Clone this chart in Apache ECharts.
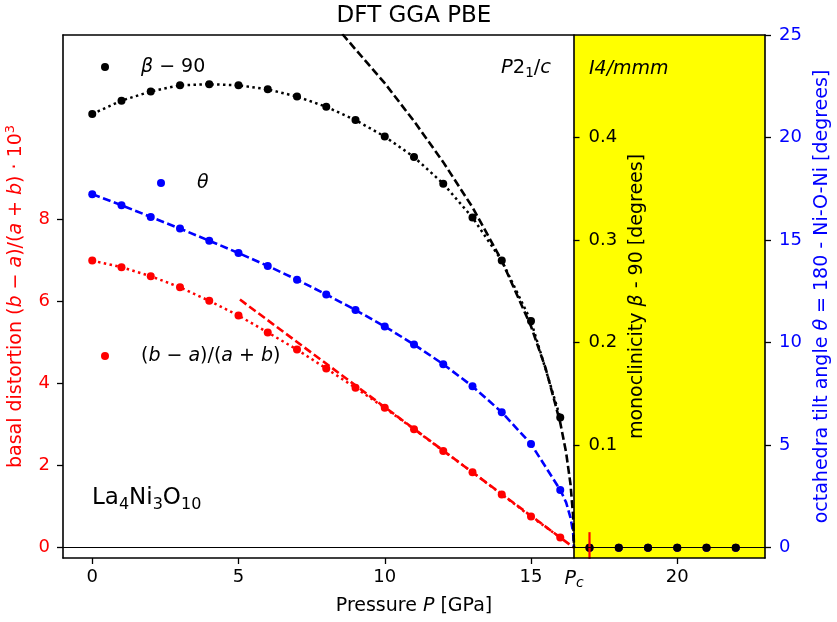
<!DOCTYPE html>
<html lang="en">
<head>
<meta charset="UTF-8">
<title>La4Ni3O10 - DFT GGA PBE</title>
<script src="https://cdn.jsdelivr.net/npm/echarts@6/dist/echarts.min.js"></script>
<style>
  html, body { margin: 0; padding: 0; background: #fff; }
  #main { width: 837px; height: 622px; }
</style>
</head>
<body>
<div id="main"></div>
<script type="text/javascript">
// pressure grid of the DFT points (GPa)
var pressure = [0, 1, 2, 3, 4, 5, 6, 7, 8, 9, 10, 11, 12, 13, 14, 15, 16, 17, 18, 19, 20, 21, 22];
// monoclinicity beta - 90 (degrees), middle axis
var betaVals = [0.423, 0.436, 0.445, 0.451, 0.452, 0.451, 0.447, 0.440, 0.430, 0.417, 0.401, 0.381, 0.355, 0.322, 0.280, 0.221, 0.127, 0, 0, 0, 0, 0, 0];
// tilt angle theta (degrees), right axis
var thetaVals = [17.24, 16.70, 16.13, 15.56, 14.97, 14.37, 13.74, 13.07, 12.35, 11.59, 10.79, 9.91, 8.95, 7.87, 6.61, 5.06, 2.82, 0, 0, 0, 0, 0, 0];
// basal distortion (b-a)/(a+b) * 10^3, left axis
var distVals = [7.00, 6.84, 6.62, 6.35, 6.02, 5.66, 5.25, 4.83, 4.37, 3.90, 3.41, 2.89, 2.36, 1.84, 1.30, 0.76, 0.25, 0, 0, 0, 0, 0, 0];

// critical pressure
var pc = 16.47;

// dashed fit curves
var betaFitP = [8.55, 9, 10, 11, 12, 13, 14, 15, 15.5, 16, 16.2, 16.35, 16.44, 16.47];
var betaFitV = [0.501, 0.486, 0.453, 0.416, 0.376, 0.332, 0.280, 0.216, 0.175, 0.122, 0.093, 0.062, 0.031, 0];
var thetaFitP = [0, 1, 2, 3, 4, 5, 6, 7, 8, 9, 10, 11, 12, 13, 14, 15, 16, 16.2, 16.35, 16.44, 16.47];
var thetaFitV = [17.24, 16.70, 16.13, 15.56, 14.97, 14.37, 13.74, 13.07, 12.35, 11.59, 10.79, 9.91, 8.95, 7.87, 6.61, 5.06, 2.82, 2.21, 1.47, 0.74, 0];
var distFitP = [5.05, 16.47];
var distFitV = [6.05, 0];

// error bar of the first point above pc
var distErrP = 17;
var distErr = 0.38;

// tick labels
var xTicks = [0, 5, 10, 15, 20];
var leftTicks = [0, 2, 4, 6, 8];
var monoTicks = [0.1, 0.2, 0.3, 0.4];
var thetaTicks = [0, 5, 10, 15, 20, 25];

var FONT = 'DejaVu Sans';
var RED = '#ff0000', BLUE = '#0000ff', BLACK = '#000000';

function pairs(xs, ys, from, to) {
  var out = [];
  for (var i = from; i < to; i++) out.push([xs[i], ys[i]]);
  return out;
}

var ptsN = pressure.length;
var inPhase = 17; // points 0..16 are in the P2_1/c phase

var myChart = echarts.init(document.getElementById('main'));

var tickStyle = { show: true, inside: false, length: 6, lineStyle: { color: BLACK, width: 1.3 } };
var lineStyleAxis = { show: true, onZero: false, lineStyle: { color: BLACK, width: 1.6 } };

var legendRich = {
  g: { width: 27 },
  i: { fontStyle: 'italic', fontSize: 19, fontFamily: FONT, color: BLACK },
  n: { fontSize: 19, fontFamily: FONT, color: BLACK }
};
var legendNames = {
  beta: '{g|}{i|β}{n| − 90}',
  theta: '{g|}{i|θ}',
  dist: '{g|}{n|(}{i|b}{n| − }{i|a}{n|)/(}{i|a}{n| + }{i|b}{n|)}'
};
function makeLegend(name, left, cy) {
  return {
    data: [name],
    left: left,
    top: cy - 11,
    padding: 0,
    icon: 'circle',
    itemWidth: 8,
    itemHeight: 8,
    selectedMode: false,
    formatter: function (n) { return legendNames[n]; },
    textStyle: { lineHeight: 22, rich: legendRich }
  };
}

var option = {
  backgroundColor: '#fff',
  animation: false,
  textStyle: { fontFamily: FONT },
  grid: { left: 63, right: 72, top: 35, bottom: 64, containLabel: false, outerBoundsMode: 'none' },
  legend: [
    makeLegend('beta', 101, 67),
    makeLegend('theta', 157, 183),
    makeLegend('dist', 101, 356)
  ],
  xAxis: [{
    type: 'value',
    min: -1,
    max: 23,
    z: 5,
    axisLine: lineStyleAxis,
    axisTick: Object.assign({ customValues: xTicks }, tickStyle),
    splitLine: { show: false },
    axisLabel: {
      customValues: xTicks.concat([pc]),
      margin: 10,
      fontSize: 18,
      color: BLACK,
      fontFamily: FONT,
      formatter: function (v) {
        if (Math.abs(v - pc) < 0.01) return '{i|P}{s|c}';
        return String(v);
      },
      rich: {
        i: { fontStyle: 'italic', fontSize: 19, lineHeight: 22, fontFamily: FONT, color: BLACK },
        s: { fontStyle: 'italic', fontSize: 14, lineHeight: 11, verticalAlign: 'bottom', fontFamily: FONT, color: BLACK }
      }
    },
    name: '{n|Pressure }{i|P}{n| [GPa]}',
    nameLocation: 'middle',
    nameGap: 39,
    nameTextStyle: {
      rich: {
        n: { fontSize: 19, fontFamily: FONT, color: BLACK },
        i: { fontSize: 19, fontStyle: 'italic', fontFamily: FONT, color: BLACK }
      }
    }
  }, {
    // top frame line
    type: 'value',
    position: 'top',
    min: -1,
    max: 23,
    z: 5,
    axisLine: lineStyleAxis,
    axisTick: { show: false },
    axisLabel: { show: false },
    splitLine: { show: false }
  }],
  yAxis: [{
    // basal distortion, left
    type: 'value',
    position: 'left',
    min: -0.25,
    max: 12.5,
    z: 5,
    axisLine: lineStyleAxis,
    axisTick: Object.assign({ customValues: leftTicks }, tickStyle),
    splitLine: { show: false },
    axisLabel: { customValues: leftTicks, margin: 13, fontSize: 18, color: RED, fontFamily: FONT },
    name: '{n|basal distortion (}{i|b}{n| − }{i|a}{n|)/(}{i|a}{n| + }{i|b}{n|) · 10}{sup|3}',
    nameLocation: 'middle',
    nameRotate: 90,
    nameGap: 35,
    nameTextStyle: {
      rich: {
        n: { fontSize: 19, lineHeight: 24, fontFamily: FONT, color: RED },
        i: { fontSize: 19, lineHeight: 24, fontStyle: 'italic', fontFamily: FONT, color: RED },
        sup: { fontSize: 13, lineHeight: 12, verticalAlign: 'top', fontFamily: FONT, color: RED }
      }
    }
  }, {
    // monoclinicity, axis drawn at pc
    type: 'value',
    position: 'right',
    offset: -(765 - 573.5),
    min: -0.01,
    max: 0.5,
    z: 6,
    axisLine: lineStyleAxis,
    axisTick: Object.assign({ customValues: monoTicks }, tickStyle),
    splitLine: { show: false },
    axisLabel: {
      customValues: monoTicks, margin: 15, fontSize: 18, color: BLACK, fontFamily: FONT,
      formatter: function (v) { return v.toFixed(1); }
    },
    name: '{n|monoclinicity }{i|β}{n| - 90 [degrees]}',
    nameLocation: 'middle',
    nameRotate: 90,
    nameGap: 54,
    nameTextStyle: {
      rich: {
        n: { fontSize: 19, fontFamily: FONT, color: BLACK },
        i: { fontSize: 19, fontStyle: 'italic', fontFamily: FONT, color: BLACK }
      }
    }
  }, {
    // tilt angle, right
    type: 'value',
    position: 'right',
    min: -0.5,
    max: 25,
    z: 5,
    axisLine: lineStyleAxis,
    axisTick: Object.assign({ customValues: thetaTicks }, tickStyle),
    splitLine: { show: false },
    axisLabel: { customValues: thetaTicks, margin: 14, fontSize: 18, color: BLUE, fontFamily: FONT },
    name: '{n|octahedra tilt angle }{i|θ}{n| = 180 - Ni-O-Ni [degrees]}',
    nameLocation: 'middle',
    nameRotate: 90,
    nameGap: 46,
    nameTextStyle: {
      rich: {
        n: { fontSize: 19, fontFamily: FONT, color: BLUE },
        i: { fontSize: 19, fontStyle: 'italic', fontFamily: FONT, color: BLUE }
      }
    }
  }],
  graphic: [{
    type: 'text',
    z: 10,
    x: 414,
    y: 16,
    style: { text: 'DFT GGA PBE', fontSize: 23, fontFamily: FONT, fill: BLACK, align: 'center', verticalAlign: 'middle' }
  }, {
    type: 'text',
    z: 10,
    x: 92,
    y: 498,
    style: {
      text: '{n|La}{s|4}{n|Ni}{s|3}{n|O}{s|10}',
      verticalAlign: 'middle',
      rich: {
        n: { fontSize: 23, lineHeight: 30, fontFamily: FONT, fill: BLACK },
        s: { fontSize: 16, lineHeight: 14, verticalAlign: 'bottom', fontFamily: FONT, fill: BLACK }
      }
    }
  }, {
    type: 'text',
    z: 10,
    x: 501,
    y: 68,
    style: {
      text: '{i|P}{n|2}{s|1}{n|/}{i|c}',
      verticalAlign: 'middle',
      rich: {
        n: { fontSize: 19.5, lineHeight: 24, fontFamily: FONT, fill: BLACK },
        i: { fontSize: 19.5, lineHeight: 24, fontStyle: 'italic', fontFamily: FONT, fill: BLACK },
        s: { fontSize: 13.5, lineHeight: 11, verticalAlign: 'bottom', fontFamily: FONT, fill: BLACK }
      }
    }
  }, {
    type: 'text',
    z: 10,
    x: 589,
    y: 69,
    style: {
      text: 'I4/mmm',
      verticalAlign: 'middle',
      fontSize: 19,
      fontStyle: 'italic',
      fontFamily: FONT,
      fill: BLACK
    }
  }],
  series: [{
    // tetragonal phase region
    type: 'line',
    name: 'phase',
    data: [],
    z: 1,
    silent: true,
    markArea: {
      silent: true,
      itemStyle: { color: '#ffff00' },
      data: [[{ xAxis: pc }, { xAxis: 23 }]]
    }
  }, {
    type: 'line',
    name: 'zero',
    data: [],
    silent: true,
    markLine: {
      silent: true,
      symbol: ['none', 'none'],
      label: { show: false },
      lineStyle: { color: BLACK, width: 1, type: 'solid' },
      data: [{ yAxis: 0 }]
    }
  }, {
    type: 'line',
    name: 'distDots',
    yAxisIndex: 0,
    data: pairs(pressure, distVals, 0, inPhase),
    showSymbol: false,
    lineStyle: { color: RED, width: 2.5, type: [2.5, 3.4] }
  }, {
    type: 'line',
    name: 'distFit',
    yAxisIndex: 0,
    data: pairs(distFitP, distFitV, 0, distFitP.length),
    showSymbol: false,
    lineStyle: { color: RED, width: 2.6, type: [8, 3.5] }
  }, {
    type: 'line',
    name: 'distErr',
    yAxisIndex: 0,
    data: [[distErrP, -distErr], [distErrP, distErr]],
    showSymbol: false,
    lineStyle: { color: RED, width: 2.2 }
  }, {
    type: 'scatter',
    name: 'dist',
    yAxisIndex: 0,
    data: pairs(pressure, distVals, 0, ptsN),
    symbolSize: 8,
    itemStyle: { color: RED, opacity: 1 }
  }, {
    type: 'line',
    name: 'thetaFit',
    yAxisIndex: 2,
    data: pairs(thetaFitP, thetaFitV, 0, thetaFitP.length),
    showSymbol: false,
    lineStyle: { color: BLUE, width: 2.6, type: [8, 3.5] }
  }, {
    type: 'scatter',
    name: 'theta',
    yAxisIndex: 2,
    data: pairs(pressure, thetaVals, 0, ptsN),
    symbolSize: 8,
    itemStyle: { color: BLUE, opacity: 1 }
  }, {
    type: 'line',
    name: 'betaDots',
    yAxisIndex: 1,
    data: pairs(pressure, betaVals, 0, inPhase),
    showSymbol: false,
    lineStyle: { color: BLACK, width: 2.5, type: [2.5, 3.4] }
  }, {
    type: 'line',
    name: 'betaFit',
    yAxisIndex: 1,
    data: pairs(betaFitP, betaFitV, 0, betaFitP.length),
    showSymbol: false,
    lineStyle: { color: BLACK, width: 2.6, type: [8, 3.5] }
  }, {
    type: 'scatter',
    name: 'beta',
    yAxisIndex: 1,
    data: pairs(pressure, betaVals, 0, ptsN),
    symbolSize: 8,
    itemStyle: { color: BLACK, opacity: 1 }
  }]
};

myChart.setOption(option);
</script>
</body>
</html>
